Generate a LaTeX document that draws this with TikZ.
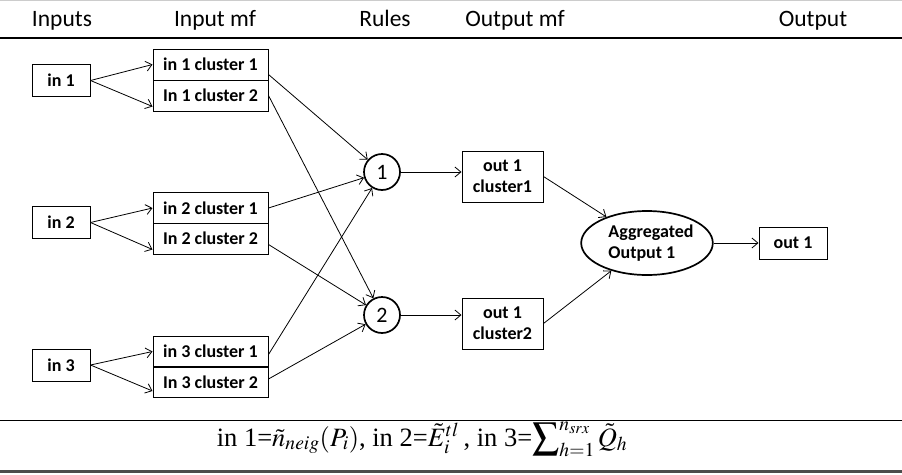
\documentclass[tikz,border=0pt]{standalone}
\usepackage{mathptmx}
\usepackage[no-math]{fontspec}
\setmainfont{Carlito}
\newfontfamily\serifrm{Liberation Serif}
\usetikzlibrary{arrows.meta,shapes.geometric}

\tikzset{
  head/.style={anchor=base, font=\fontsize{23.5}{27}\selectfont},
  inbox/.style={draw, line width=1pt, minimum width=58pt, minimum height=32pt,
    inner sep=0pt, font=\bfseries\fontsize{18}{21}\selectfont},
  cell/.style={draw, line width=1pt, minimum width=115pt, minimum height=31pt,
    inner sep=0pt, font=\bfseries\fontsize{18}{21}\selectfont},
  rulenode/.style={circle, draw, line width=1.7pt, minimum size=36pt,
    inner sep=0pt, font=\fontsize{22}{24}\selectfont},
  outbox/.style={draw, line width=1pt, minimum width=81pt, minimum height=51pt,
    inner sep=0pt, align=center, font=\bfseries\fontsize{18}{21}\selectfont},
  aggnode/.style={ellipse, draw, line width=1.7pt, minimum width=130pt,
    minimum height=64pt, inner sep=0pt, align=left,
    font=\bfseries\fontsize{18}{21.5}\selectfont},
  link/.style={line width=0.8pt, -{Straight Barb[length=6pt,width=10pt]}},
}

\begin{document}
\begin{tikzpicture}[x=1pt,y=-1pt]
\useasboundingbox (0,0) rectangle (902,474);

% rules of the table
\draw[gray!40, line width=1pt] (0,0.5) -- (902,0.5);
\draw[line width=1.4pt] (0,38) -- (902,38);
\draw[line width=1.4pt] (0,420.5) -- (902,420.5);
\draw[black!70, line width=3pt] (0,471) -- (902,471);

% column headings
\node[head] (h1) at (62,26) {Inputs};
\node[head] (h2) at (215,26) {Input mf};
\node[head] (h3) at (385,26) {Rules};
\node[head] (h4) at (515,26) {Output mf};
\node[head] (h5) at (813,26) {Output};

% inputs
\node[inbox] (in1) at (61,80.5) {in 1};
\node[inbox] (in2) at (61,222.5) {in 2};
\node[inbox] (in3) at (61,365) {in 3};

% input membership functions
\node[cell] (c11) at (210.5,64.5) {in 1 cluster 1};
\node[cell] (c12) at (210.5,95.5) {In 1 cluster 2};
\node[cell] (c21) at (210.5,208) {in 2 cluster 1};
\node[cell] (c22) at (210.5,238.5) {In 2 cluster 2};
\node[cell] (c31) at (210.5,351.5) {in 3 cluster 1};
\node[cell] (c32) at (210.5,382) {In 3 cluster 2};

% rules
\node[rulenode] (r1) at (382,172) {1};
\node[rulenode] (r2) at (382,315) {2};

% output membership functions
\node[outbox] (o1) at (502.5,176.5) {out 1\\cluster1};
\node[outbox] (o2) at (502.5,323.5) {out 1\\cluster2};

% aggregation and output
\node[aggnode] (agg) at (647,243) {\hspace*{8pt}Aggregated\\\hspace*{8pt}Output 1};
\node[inbox, minimum width=68pt] (out) at (793,243) {out 1};

% inputs to membership functions
\draw[link] (in1.east) -- (c11.west);
\draw[link] (in1.east) -- ([yshift=-11pt]c12.west);
\draw[link] (in2.east) -- (c21.west);
\draw[link] (in2.east) -- ([yshift=-11pt]c22.west);
\draw[link] (in3.east) -- (c31.west);
\draw[link] (in3.east) -- ([yshift=-9pt]c32.west);

% membership functions to rules
\draw[link] ([yshift=-10pt]c11.east) -- (r1);
\draw[link] (c12.east) -- (r2);
\draw[link] (c21.east) -- (r1);
\draw[link] ([yshift=-6pt]c22.east) -- (r2);
\draw[link] ([yshift=-3pt]c31.east) -- (r1);
\draw[link] ([yshift=3pt]c32.east) -- (r2);

% rules to output membership functions
\draw[link] (r1.east) -- (r1.east -| o1.west);
\draw[link] (r2.east) -- (r2.east -| o2.west);

% aggregation
\draw[link] (o1.east) -- (agg);
\draw[link] (o2.east) -- (agg);
\draw[link] (agg.east) -- (out.west);

% definitions of the inputs
\node[anchor=base, font=\serifrm\fontsize{26.5}{30}\selectfont] (defs) at (422,446)
  {in 1=$\tilde{n}_{neig}(P_i)$, in 2=$\tilde{E}_i^{tl}$\,, in 3=$\displaystyle\sum\nolimits_{h=1}^{n_{srx}}\tilde{Q}_h$};
\end{tikzpicture}
\end{document}
